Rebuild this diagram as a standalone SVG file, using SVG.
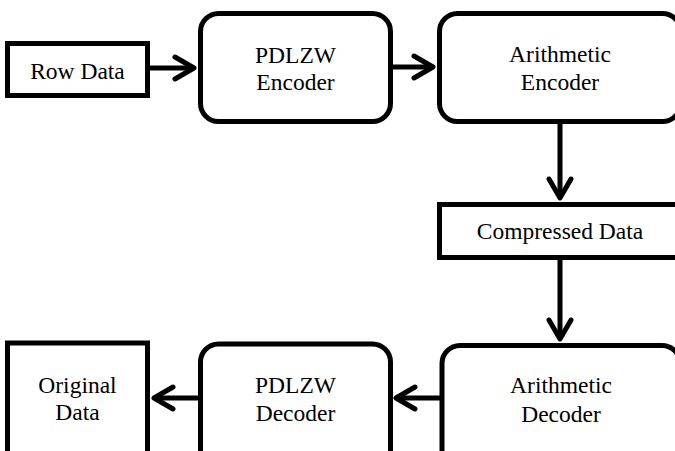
<svg xmlns="http://www.w3.org/2000/svg" width="675" height="451" viewBox="0 0 675 451">
<style>
.box{fill:#fff;stroke:#000;stroke-width:5}
.t{font-family:"Liberation Serif","Times New Roman",serif;font-size:23.5px;fill:#000;text-anchor:middle}
.c{stroke:#000;stroke-width:5;fill:none}
</style>
<defs>
<marker id="ah" markerUnits="userSpaceOnUse" markerWidth="40" markerHeight="40" viewBox="-30 -20 40 40" refX="0" refY="0" orient="auto" overflow="visible">
<path d="M-19,-11 L0,0 L-19,11" fill="none" stroke="#000" stroke-width="5" stroke-linecap="round" stroke-linejoin="round"/>
</marker>
</defs>
<rect width="675" height="451" fill="#fff"/>
<g id="row-data"><rect class="box" x="7.5" y="43.5" width="140" height="52"/><text class="t" x="77.5" y="79">Row Data</text></g>
<g id="pdlzw-encoder"><rect class="box" x="200.5" y="13.5" width="190" height="108" rx="18"/><text class="t" x="295.5" y="63">PDLZW</text><text class="t" x="295.5" y="90">Encoder</text></g>
<g id="arith-encoder"><rect class="box" x="439.5" y="13.5" width="241" height="108" rx="18"/><text class="t" x="560" y="62">Arithmetic</text><text class="t" x="560" y="90">Encoder</text></g>
<g id="compressed"><rect class="box" x="439.5" y="204.5" width="241" height="53"/><text class="t" x="560" y="239">Compressed Data</text></g>
<g id="arith-decoder"><rect class="box" x="442" y="345.5" width="238" height="130" rx="18"/><text class="t" x="561" y="393">Arithmetic</text><text class="t" x="561" y="422">Decoder</text></g>
<g id="pdlzw-decoder"><rect class="box" x="200.5" y="344" width="190" height="130" rx="18"/><text class="t" x="295.5" y="393">PDLZW</text><text class="t" x="295.5" y="421">Decoder</text></g>
<g id="original-data"><rect class="box" x="7.5" y="343" width="140" height="130"/><text class="t" x="77.5" y="393">Original</text><text class="t" x="77.5" y="420">Data</text></g>
<g id="connectors">
<path class="c" d="M150,68 H194" marker-end="url(#ah)"/>
<path class="c" d="M393,67 H433" marker-end="url(#ah)"/>
<path class="c" d="M560,124 V198" marker-end="url(#ah)"/>
<path class="c" d="M560,260 V339" marker-end="url(#ah)"/>
<path class="c" d="M440,398 H396" marker-end="url(#ah)"/>
<path class="c" d="M198,398 H154" marker-end="url(#ah)"/>
</g>
</svg>
